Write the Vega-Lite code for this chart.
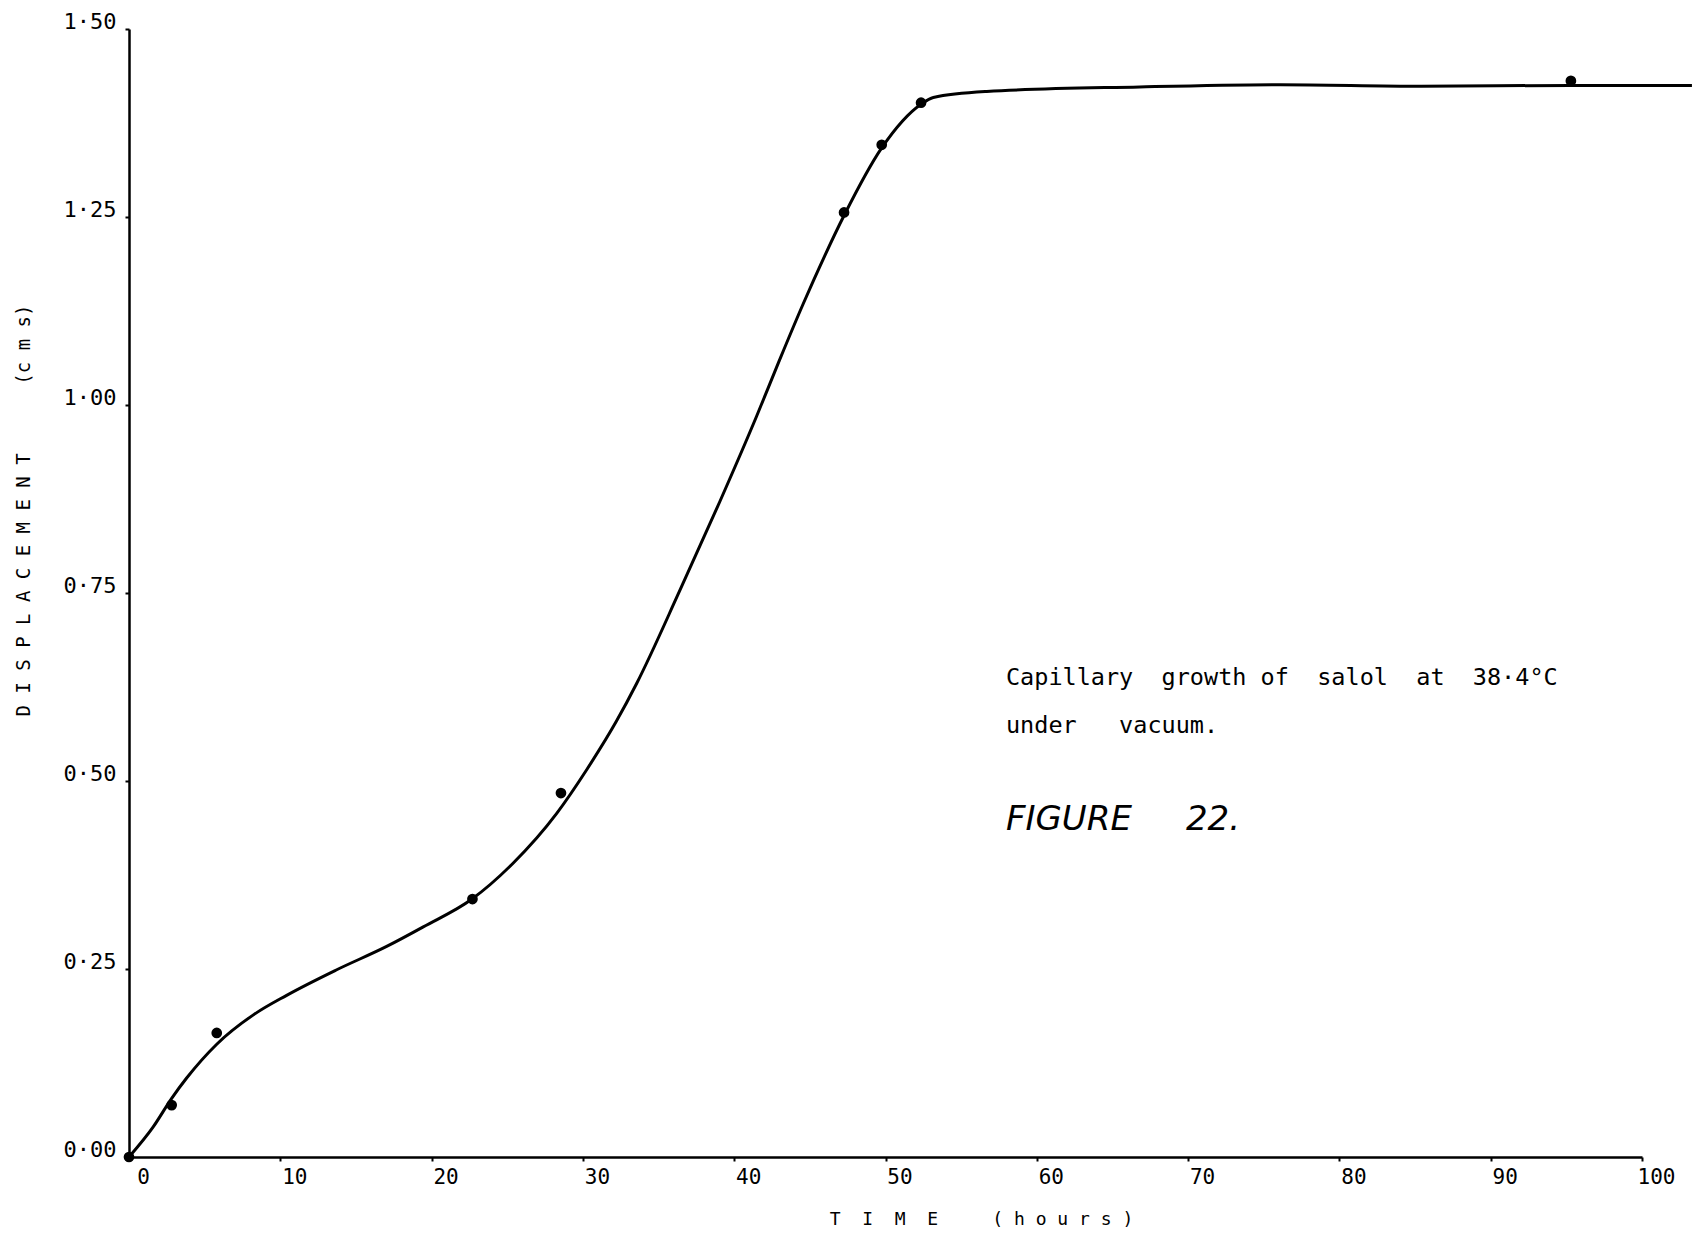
{
  "$schema": "https://vega.github.io/schema/vega-lite/v6.json",
  "autosize": {"type": "none"},
  "padding": {"left": 129, "top": 29, "right": 50, "bottom": 77},
  "width": 1513,
  "height": 1128,
  "background": "white",
  "config": {"view": {"stroke": null}, "font": "DejaVu Sans Mono"},
  "datasets": {
    "curve": [
      {"t": 0, "d": 0},
      {"t": 1.6, "d": 0.040},
      {"t": 2.82, "d": 0.078},
      {"t": 3.81, "d": 0.105},
      {"t": 5.8, "d": 0.150},
      {"t": 8.22, "d": 0.189},
      {"t": 10.42, "d": 0.215},
      {"t": 13.73, "d": 0.249},
      {"t": 17.03, "d": 0.280},
      {"t": 19.45, "d": 0.306},
      {"t": 22.67, "d": 0.343},
      {"t": 25.4, "d": 0.391},
      {"t": 28.27, "d": 0.457},
      {"t": 30.25, "d": 0.515},
      {"t": 32.23, "d": 0.580},
      {"t": 33.56, "d": 0.630},
      {"t": 36.4, "d": 0.753},
      {"t": 39.06, "d": 0.872},
      {"t": 41.48, "d": 0.985},
      {"t": 43.0, "d": 1.060},
      {"t": 44.57, "d": 1.135},
      {"t": 45.23, "d": 1.165},
      {"t": 47.26, "d": 1.252},
      {"t": 49.75, "d": 1.342},
      {"t": 52.35, "d": 1.400},
      {"t": 53.16, "d": 1.409},
      {"t": 56.69, "d": 1.417},
      {"t": 66.8, "d": 1.423},
      {"t": 76.1, "d": 1.426},
      {"t": 85.4, "d": 1.424},
      {"t": 95.3, "d": 1.425},
      {"t": 103.3, "d": 1.425}
    ],
    "obs": [
      {"t": 0, "d": 0},
      {"t": 2.82, "d": 0.069},
      {"t": 5.8, "d": 0.165},
      {"t": 22.7, "d": 0.343},
      {"t": 28.55, "d": 0.484},
      {"t": 47.26, "d": 1.256},
      {"t": 49.75, "d": 1.346},
      {"t": 52.35, "d": 1.402},
      {"t": 95.3, "d": 1.431}
    ],
    "notes": [
      {"t": 57.96, "d": 0.637, "label": "Capillary\u00a0\u00a0growth of\u00a0\u00a0salol\u00a0\u00a0at\u00a0\u00a038·4°C"},
      {"t": 57.96, "d": 0.573, "label": "under\u00a0\u00a0\u00a0vacuum."}
    ],
    "fig": [
      {"t": 57.96, "d": 0.448, "label": "FIGURE\u00a0\u00a0\u00a0\u00a0\u00a022."}
    ]
  },
  "layer": [
    {
      "data": {"name": "curve"},
      "mark": {"type": "line", "interpolate": "monotone", "color": "black", "strokeWidth": 3, "clip": false},
      "encoding": {
        "x": {
          "field": "t", "type": "quantitative",
          "scale": {"domain": [0, 100], "nice": false, "zero": false},
          "axis": {
            "values": [0, 10, 20, 30, 40, 50, 60, 70, 80, 90, 100],
            "labelExpr": "format(datum.value, 'd')",
            "grid": false,
            "domainColor": "black", "domainWidth": 2.5,
            "tickColor": "black", "tickWidth": 2, "tickSize": 4,
            "labelFont": "DejaVu Sans Mono", "labelFontSize": 21, "labelColor": "black",
            "labelOffset": 14, "labelPadding": 5, "labelFlush": false,
            "title": "T\u00a0\u00a0I\u00a0\u00a0M\u00a0\u00a0E\u00a0\u00a0\u00a0\u00a0\u00a0(\u00a0h\u00a0o\u00a0u\u00a0r\u00a0s\u00a0)",
            "titleFont": "DejaVu Sans Mono", "titleFontSize": 18, "titleFontWeight": "normal", "titleColor": "black",
            "titleX": 852, "titleY": 62, "titleAlign": "center", "titleBaseline": "middle"
          }
        },
        "y": {
          "field": "d", "type": "quantitative",
          "scale": {"domain": [0, 1.5], "nice": false},
          "axis": {
            "values": [0, 0.25, 0.5, 0.75, 1.0, 1.25, 1.5],
            "labelExpr": "replace(format(datum.value, '.2f'), '.', '·')",
            "grid": false,
            "domainColor": "black", "domainWidth": 2.5,
            "tickColor": "black", "tickWidth": 2, "tickSize": 4,
            "labelFont": "DejaVu Sans Mono", "labelFontSize": 22, "labelColor": "black",
            "labelOffset": -8, "labelPadding": 9, "labelFlush": false,
            "title": "D I S P L A C E M E N T\u00a0\u00a0\u00a0\u00a0\u00a0\u00a0(c m s)",
            "titleFont": "DejaVu Sans Mono", "titleFontSize": 19, "titleFontWeight": "normal", "titleColor": "black",
            "titleX": -106, "titleY": 481, "titleAngle": 270, "titleAlign": "center", "titleBaseline": "middle"
          }
        }
      }
    },
    {
      "data": {"name": "obs"},
      "mark": {"type": "point", "filled": true, "shape": "circle", "size": 115, "color": "black", "opacity": 1},
      "encoding": {
        "x": {"field": "t", "type": "quantitative"},
        "y": {"field": "d", "type": "quantitative"}
      }
    },
    {
      "data": {"name": "notes"},
      "mark": {"type": "text", "font": "DejaVu Sans Mono", "fontSize": 23.5, "align": "left", "baseline": "middle", "color": "black"},
      "encoding": {
        "x": {"field": "t", "type": "quantitative"},
        "y": {"field": "d", "type": "quantitative"},
        "text": {"field": "label"}
      }
    },
    {
      "data": {"name": "fig"},
      "mark": {"type": "text", "font": "DejaVu Sans", "fontStyle": "italic", "fontSize": 34, "align": "left", "baseline": "middle", "color": "black"},
      "encoding": {
        "x": {"field": "t", "type": "quantitative"},
        "y": {"field": "d", "type": "quantitative"},
        "text": {"field": "label"}
      }
    }
  ]
}
